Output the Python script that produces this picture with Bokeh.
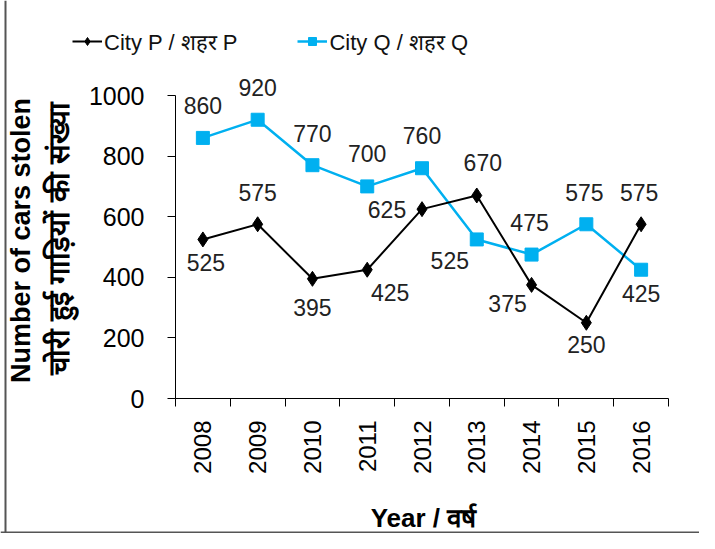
import math
from bokeh.plotting import figure
from bokeh.models import FixedTicker, Label, Legend, LegendItem, Range1d, Span
from bokeh.core.properties import value
from bokeh.embed import file_html
from bokeh.resources import INLINE

# ---- data ----
years = ["2008", "2009", "2010", "2011", "2012", "2013", "2014", "2015", "2016"]
city_p = [525, 575, 395, 425, 625, 670, 375, 250, 575]
city_q = [860, 920, 770, 700, 760, 525, 475, 575, 425]
y_ticks = [0, 200, 400, 600, 800, 1000]

# label placement offsets (pixels)
p_dx = [3, 0, 0, 23, -35, 6, -24, 0, -2]
p_dy = [23, -32, 29, 23, 0, -33, 19, 22, -32]
q_dx = [0, 0, 0, 0, 0, -27, -2, -2, 0]
q_dy = [-32, -32, -32, -33, -33, 21, -32, -32, 24]

FONT = "Liberation Sans"
BLUE = "#00B0F0"

W, H = 699, 533
AX_X, AX_Y = 175, 398           # axis origin in canvas pixels
PX_X = (668 - 175) / len(years)  # pixels per category
PX_Y = 303 / 1000.0             # pixels per unit

x = [i + 0.5 for i in range(len(years))]

p = figure(width=W, height=H,
           x_range=Range1d(-AX_X / PX_X, (W - AX_X) / PX_X),
           y_range=Range1d(-(H - AX_Y) / PX_Y, AX_Y / PX_Y),
           output_backend="svg", toolbar_location=None,
           min_border_left=0, min_border_right=0, min_border_top=0, min_border_bottom=0)
p.grid.visible = False
p.outline_line_color = None

# y axis
p.yaxis.fixed_location = 0
p.yaxis.bounds = (0, 1000)
p.yaxis.ticker = FixedTicker(ticks=y_ticks)
p.yaxis.major_tick_out = 8
p.yaxis.major_tick_in = 0
p.yaxis.minor_tick_line_color = None
p.yaxis.major_label_text_font = FONT
p.yaxis.major_label_text_font_size = "25px"
p.yaxis.major_label_text_color = "black"
p.yaxis.major_label_standoff = 23
p.yaxis.axis_line_color = "black"
p.yaxis.major_tick_line_color = "black"

# x axis
p.xaxis.fixed_location = 0
p.xaxis.bounds = (0, len(years))
p.xaxis.ticker = FixedTicker(ticks=x, minor_ticks=list(range(len(years) + 1)))
p.xaxis.major_tick_out = 0
p.xaxis.major_tick_in = 0
p.xaxis.minor_tick_out = 8
p.xaxis.minor_tick_in = 0
p.xaxis.minor_tick_line_color = "black"
p.xaxis.major_label_overrides = {xv: yr for xv, yr in zip(x, years)}
p.xaxis.major_label_orientation = math.pi / 2
p.xaxis.major_label_text_font = FONT
p.xaxis.major_label_text_font_size = "24px"
p.xaxis.major_label_text_color = "black"
p.xaxis.major_label_standoff = 14
p.xaxis.axis_line_color = "black"

# series
lq = p.line(x, city_q, line_color=BLUE, line_width=2.5)
sq = p.scatter(x, city_q, marker="square", size=13, fill_color=BLUE, line_color=BLUE)
lp = p.line(x, city_p, line_color="black", line_width=2)
sp = p.scatter(x, city_p, marker="diamond", size=15, fill_color="black", line_color="black")

# data labels
p.text(x=x, y=city_q, text=[str(v) for v in city_q], x_offset=q_dx, y_offset=q_dy,
       text_align="center", text_baseline="middle", text_font=value(FONT),
       text_font_size="23px", text_color="#222222")
p.text(x=x, y=city_p, text=[str(v) for v in city_p], x_offset=p_dx, y_offset=p_dy,
       text_align="center", text_baseline="middle", text_font=value(FONT),
       text_font_size="23px", text_color="#222222")

# legend
legend = Legend(items=[LegendItem(label="City P / शहर P", renderers=[lp, sp]),
                       LegendItem(label="City Q / शहर Q", renderers=[lq, sq])],
                orientation="horizontal", location=(72, 477))
legend.label_text_font = FONT
legend.label_text_font_size = "22px"
legend.label_text_color = "#111111"
legend.glyph_width = 30
legend.label_standoff = 2
legend.spacing = 60
legend.padding = 0
legend.margin = 0
legend.border_line_color = None
legend.background_fill_alpha = 0
p.add_layout(legend, "center")

# axis titles
p.add_layout(Label(x=423, y=H - 517, x_units="screen", y_units="screen", text="Year / वर्ष",
                   text_align="center", text_baseline="middle", text_font=FONT,
                   text_font_size="26px", text_font_style="bold", text_color="black"))
p.add_layout(Label(x=20, y=H - 240, x_units="screen", y_units="screen", angle=math.pi / 2,
                   text="Number of cars stolen", text_align="center", text_baseline="middle",
                   text_font=FONT, text_font_size="27px", text_font_style="bold",
                   text_color="black"))
p.add_layout(Label(x=58, y=H - 238, x_units="screen", y_units="screen", angle=math.pi / 2,
                   text="चोरी हुई गाड़ियों की संख्या", text_align="center", text_baseline="middle",
                   text_font=FONT, text_font_size="29px", text_font_style="bold",
                   text_color="black"))

# frame border lines (left and bottom)
p.add_layout(Span(location=5, location_units="screen", dimension="height",
                  line_color="#555555", line_width=2))
p.add_layout(Span(location=1, location_units="screen", dimension="width",
                  line_color="#555555", line_width=2))

open("out.html", "w").write(file_html(p, INLINE))
